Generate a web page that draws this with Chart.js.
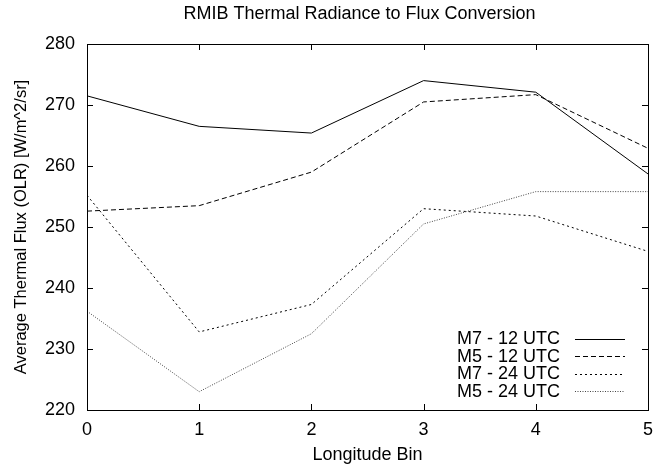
<!DOCTYPE html>
<html>
<head>
<meta charset="utf-8">
<script src="https://cdn.jsdelivr.net/npm/chart.js@4.4.1/dist/chart.umd.min.js"></script>
<style>
  html, body { margin: 0; padding: 0; background: #fff; }
  #wrap { width: 662px; height: 469px; }
</style>
</head>
<body>
<div id="wrap"><canvas id="fluxChart"></canvas></div>
<script>
// longitude bins and flux values
const bins = [0, 1, 2, 3, 4, 5];
const m7_12 = [271.5, 266.5, 265.4, 274.0, 272.1, 258.7];
const m5_12 = [252.6, 253.5, 259.0, 270.5, 271.7, 262.9];
const m7_24 = [255.2, 232.8, 237.3, 253.0, 251.8, 246.0];
const m5_24 = [236.2, 223.0, 232.5, 250.5, 255.8, 255.8];
const xTicks = [0, 1, 2, 3, 4, 5];
const yTicks = [220, 230, 240, 250, 260, 270, 280];
const chartTitle = 'RMIB Thermal Radiance to Flux Conversion';

const FONT = 'Liberation Sans, Arial, Helvetica, sans-serif';

function pts(vals) {
  return bins.map((b, i) => ({ x: b, y: vals[i] }));
}

// gnuplot style frame: box round the plot with inward ticks on all sides
const framePlugin = {
  id: 'frame',
  afterDatasetsDraw(chart) {
    const { ctx, chartArea: a, scales } = chart;
    ctx.save();
    ctx.strokeStyle = '#000';
    ctx.lineWidth = 1;
    ctx.strokeRect(Math.round(a.left) + 0.5, Math.round(a.top) + 0.5,
      Math.round(a.right - a.left), Math.round(a.bottom - a.top));
    ctx.beginPath();
    const t = 6;
    xTicks.forEach(v => {
      const x = Math.round(scales.x.getPixelForValue(v)) + 0.5;
      ctx.moveTo(x, a.bottom); ctx.lineTo(x, a.bottom - t);
      ctx.moveTo(x, a.top); ctx.lineTo(x, a.top + t);
    });
    yTicks.forEach(v => {
      const y = Math.round(scales.y.getPixelForValue(v)) + 0.5;
      ctx.moveTo(a.left, y); ctx.lineTo(a.left + t, y);
      ctx.moveTo(a.right, y); ctx.lineTo(a.right - t, y);
    });
    ctx.stroke();

    // title, centred a little right of the canvas middle like gnuplot does
    ctx.fillStyle = '#000';
    ctx.font = '18px ' + FONT;
    ctx.textAlign = 'center';
    ctx.textBaseline = 'middle';
    ctx.fillText(chartTitle, (a.left + a.right) / 2 - 8, 14);
    ctx.restore();
  }
};

// legend inside the plot, bottom right, label then line sample
const keyPlugin = {
  id: 'key',
  afterDatasetsDraw(chart) {
    const { ctx, chartArea: a } = chart;
    ctx.save();
    ctx.font = '18px ' + FONT;
    ctx.textAlign = 'right';
    ctx.textBaseline = 'middle';
    const rowH = 17.5;
    const n = chart.data.datasets.length;
    const y0 = a.bottom - 19 - (n - 1) * rowH;
    chart.data.datasets.forEach((ds, i) => {
      const y = y0 + i * rowH;
      ctx.fillStyle = '#000';
      ctx.fillText(ds.label, a.right - 88, y + 1);
      ctx.beginPath();
      ctx.strokeStyle = ds.borderColor;
      ctx.lineWidth = ds.borderWidth;
      ctx.setLineDash(ds.borderDash || []);
      ctx.moveTo(a.right - 73, Math.round(y) + 0.5);
      ctx.lineTo(a.right - 23, Math.round(y) + 0.5);
      ctx.stroke();
    });
    ctx.restore();
  }
};

const lineDs = (label, vals, dash, color) => ({
  label,
  data: pts(vals),
  borderColor: color,
  borderWidth: 1,
  borderDash: dash,
  pointRadius: 0,
  tension: 0,
  fill: false
});

new Chart(document.getElementById('fluxChart'), {
  type: 'line',
  data: {
    datasets: [
      lineDs('M7 - 12 UTC', m7_12, [], '#000'),
      lineDs('M5 - 12 UTC', m5_12, [5, 3], '#000'),
      lineDs('M7 - 24 UTC', m7_24, [2, 3], '#000'),
      lineDs('M5 - 24 UTC', m5_24, [1, 1.5], '#444')
    ]
  },
  options: {
    responsive: true,
    maintainAspectRatio: false,
    animation: false,
    layout: { padding: { left: 0, right: 6, top: 44, bottom: 0 } },
    scales: {
      x: {
        type: 'linear',
        min: 0, max: 5,
        afterBuildTicks: s => { s.ticks = xTicks.map(v => ({ value: v })); },
        afterFit: s => { s.height = 59; },
        grid: { display: false, drawTicks: false },
        border: { display: false },
        ticks: { color: '#000', font: { family: FONT, size: 18 }, padding: 9, maxRotation: 0 },
        title: { display: true, text: 'Longitude Bin', color: '#000',
          font: { family: FONT, size: 18 }, padding: { top: 0, bottom: 3 } }
      },
      y: {
        min: 220, max: 280,
        afterBuildTicks: s => { s.ticks = yTicks.map(v => ({ value: v })); },
        afterFit: s => { s.width = 87; },
        grid: { display: false, drawTicks: false },
        border: { display: false },
        ticks: { color: '#000', font: { family: FONT, size: 18 }, padding: 12 },
        title: { display: true, text: 'Average Thermal Flux (OLR) [W/m^2/sr]', color: '#000',
          font: { family: FONT, size: 16.5 }, padding: { top: 12, bottom: 0 } }
      }
    },
    plugins: {
      legend: { display: false },
      tooltip: { enabled: false },
      title: { display: false }
    }
  },
  plugins: [framePlugin, keyPlugin]
});
</script>
</body>
</html>
